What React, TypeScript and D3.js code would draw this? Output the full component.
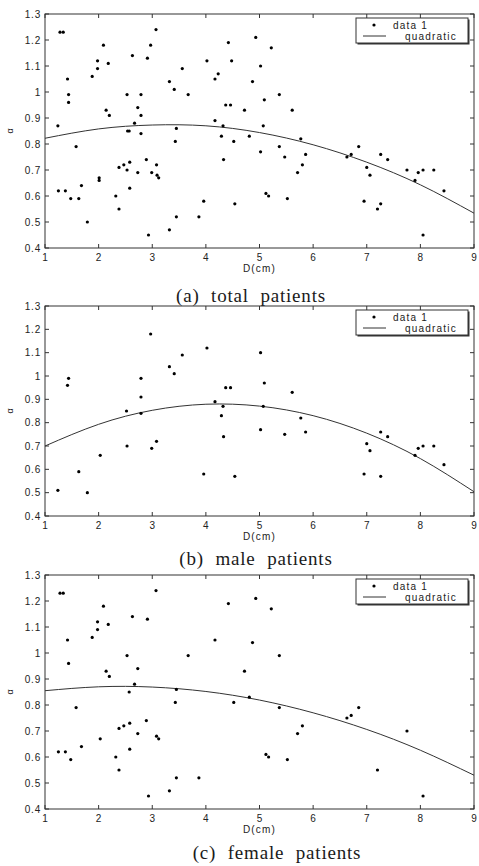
import React from "react";
import * as d3 from "d3";

// D(cm) vs alpha
const totalPoints: [number, number][] = [
  [1.24, 0.87], [1.28, 1.23], [1.34, 1.23], [1.25, 0.62], [1.38, 0.62], [1.42, 1.05],
  [1.44, 0.99], [1.44, 0.96], [1.48, 0.59], [1.58, 0.79], [1.63, 0.59], [1.68, 0.64],
  [1.79, 0.5], [1.88, 1.06], [1.98, 1.12], [1.98, 1.09], [2.01, 0.67], [2.01, 0.66],
  [2.09, 1.18], [2.14, 0.93], [2.18, 1.11], [2.2, 0.91], [2.32, 0.6], [2.38, 0.71],
  [2.38, 0.55], [2.47, 0.72], [2.53, 0.99], [2.53, 0.7], [2.54, 0.85], [2.57, 0.85],
  [2.58, 0.73], [2.58, 0.63], [2.63, 1.14], [2.67, 0.88], [2.73, 0.94], [2.73, 0.69],
  [2.79, 0.91], [2.79, 0.99], [2.79, 0.84], [2.89, 0.74], [2.91, 1.13], [2.93, 0.45],
  [2.97, 1.18], [2.99, 0.69], [3.07, 1.24], [3.08, 0.72], [3.09, 0.68], [3.12, 0.67],
  [3.32, 1.04], [3.32, 0.47], [3.41, 1.01], [3.43, 0.81], [3.45, 0.86], [3.45, 0.52],
  [3.56, 1.09], [3.67, 0.99], [3.87, 0.52], [3.96, 0.58], [4.02, 1.12], [4.17, 0.89],
  [4.17, 1.05], [4.23, 1.07], [4.29, 0.83], [4.32, 0.87], [4.33, 0.74], [4.37, 0.95],
  [4.42, 1.19], [4.46, 0.95], [4.48, 1.12], [4.52, 0.81], [4.54, 0.57], [4.72, 0.93],
  [4.81, 0.83], [4.87, 1.04], [4.93, 1.21], [5.02, 0.77], [5.02, 1.1], [5.07, 0.87],
  [5.09, 0.97], [5.12, 0.61], [5.17, 0.6], [5.22, 1.17], [5.37, 0.99], [5.37, 0.79],
  [5.47, 0.75], [5.52, 0.59], [5.61, 0.93], [5.71, 0.69], [5.77, 0.82], [5.8, 0.72],
  [5.86, 0.76], [6.63, 0.75], [6.71, 0.76], [6.85, 0.79], [6.95, 0.58], [7.0, 0.71],
  [7.06, 0.68], [7.2, 0.55], [7.26, 0.57], [7.26, 0.76], [7.39, 0.74], [7.75, 0.7],
  [7.9, 0.66], [7.96, 0.69], [8.05, 0.7], [8.05, 0.45], [8.25, 0.7], [8.44, 0.62],
];

const malePoints: [number, number][] = [
  [1.24, 0.51], [1.42, 0.96], [1.44, 0.99], [1.63, 0.59], [1.79, 0.5], [2.03, 0.66],
  [2.52, 0.85], [2.53, 0.7], [2.79, 0.99], [2.79, 0.91], [2.79, 0.84], [2.97, 1.18],
  [2.99, 0.69], [3.08, 0.72], [3.32, 1.04], [3.41, 1.01], [3.56, 1.09], [3.96, 0.58],
  [4.02, 1.12], [4.17, 0.89], [4.29, 0.83], [4.32, 0.87], [4.33, 0.74], [4.37, 0.95],
  [4.46, 0.95], [4.54, 0.57], [5.02, 1.1], [5.02, 0.77], [5.07, 0.87], [5.09, 0.97],
  [5.47, 0.75], [5.61, 0.93], [5.77, 0.82], [5.86, 0.76], [6.95, 0.58], [7.0, 0.71],
  [7.06, 0.68], [7.26, 0.57], [7.26, 0.76], [7.39, 0.74], [7.9, 0.66], [7.96, 0.69],
  [8.05, 0.7], [8.25, 0.7], [8.44, 0.62],
];

const femalePoints: [number, number][] = [
  [1.28, 1.23], [1.34, 1.23], [1.25, 0.62], [1.38, 0.62], [1.42, 1.05], [1.44, 0.96],
  [1.48, 0.59], [1.58, 0.79], [1.68, 0.64], [1.88, 1.06], [1.98, 1.12], [1.98, 1.09],
  [2.03, 0.67], [2.09, 1.18], [2.14, 0.93], [2.18, 1.11], [2.2, 0.91], [2.32, 0.6],
  [2.38, 0.71], [2.38, 0.55], [2.47, 0.72], [2.53, 0.99], [2.57, 0.85], [2.58, 0.73],
  [2.58, 0.63], [2.63, 1.14], [2.67, 0.88], [2.73, 0.94], [2.73, 0.69], [2.89, 0.74],
  [2.91, 1.13], [2.93, 0.45], [3.07, 1.24], [3.08, 0.68], [3.12, 0.67], [3.32, 0.47],
  [3.43, 0.81], [3.45, 0.86], [3.45, 0.52], [3.67, 0.99], [3.87, 0.52], [4.17, 1.05],
  [4.42, 1.19], [4.52, 0.81], [4.72, 0.93], [4.81, 0.83], [4.87, 1.04], [4.93, 1.21],
  [5.12, 0.61], [5.17, 0.6], [5.22, 1.17], [5.37, 0.99], [5.37, 0.79], [5.52, 0.59],
  [5.71, 0.69], [5.8, 0.72], [6.63, 0.75], [6.71, 0.76], [6.85, 0.79], [7.2, 0.55],
  [7.75, 0.7], [8.05, 0.45],
];

// quadratic fit curves, read at each integer D
const fitD = [1, 2, 3, 4, 5, 6, 7, 8, 9];
const totalFit = [0.822, 0.858, 0.873, 0.87, 0.844, 0.797, 0.73, 0.643, 0.534];
const maleFit = [0.7, 0.793, 0.853, 0.879, 0.871, 0.83, 0.755, 0.646, 0.504];
const femaleFit = [0.855, 0.87, 0.869, 0.852, 0.819, 0.77, 0.706, 0.626, 0.53];

const xTicks = [1, 2, 3, 4, 5, 6, 7, 8, 9];
const yTicks = [0.4, 0.5, 0.6, 0.7, 0.8, 0.9, 1, 1.1, 1.2, 1.3];
const yTickLabels = ["0.4", "0.5", "0.6", "0.7", "0.8", "0.9", "1", "1.1", "1.2", "1.3"];

const sans = "'Liberation Sans', Arial, sans-serif";
const serif = "'Liberation Serif', 'Times New Roman', serif";
const ink = "#1a1a1a";

interface PanelProps {
  top: number;
  height: number;
  points: [number, number][];
  fit: number[];
  caption: string;
  captionX: number;
  captionY: number;
}

const Panel: React.FC<PanelProps> = ({ top, height, points, fit, caption, captionX, captionY }) => {
  const left = 45, right = 474;
  const bottom = top + height;
  const x = d3.scaleLinear().domain([1, 9]).range([left, right]);
  const y = d3.scaleLinear().domain([0.4, 1.3]).range([bottom, top]);
  const line = d3.line<number>()
    .x((_, i) => x(fitD[i]))
    .y(d => y(d))
    .curve(d3.curveNatural);
  const tk = 4;

  // legend sits in the top right corner
  const lx = 356, ly = top + 4, lw = 112, lh = 25;

  return (
    <g>
      <rect x={left} y={top} width={right - left} height={height} fill="#fff" stroke="#333" strokeWidth={1} />
      {xTicks.map(t => (
        <g key={"x" + t}>
          <line x1={x(t)} x2={x(t)} y1={bottom} y2={bottom - tk} stroke="#333" />
          <line x1={x(t)} x2={x(t)} y1={top} y2={top + tk} stroke="#333" />
          <text x={x(t) + 0.4} y={bottom + 9} textAnchor="middle" dominantBaseline="central"
            fontFamily={sans} fontSize={10} letterSpacing={0.8} fill="#222">{t}</text>
        </g>
      ))}
      {yTicks.map((t, i) => (
        <g key={"y" + t}>
          <line x1={left} x2={left + tk} y1={y(t)} y2={y(t)} stroke="#333" />
          <line x1={right} x2={right - tk} y1={y(t)} y2={y(t)} stroke="#333" />
          <text x={41} y={y(t)} textAnchor="end" dominantBaseline="central"
            fontFamily={sans} fontSize={10} letterSpacing={0.8} fill="#222">{yTickLabels[i]}</text>
        </g>
      ))}
      <text x={(left + right) / 2} y={bottom + 20} textAnchor="middle" dominantBaseline="central"
        fontFamily={sans} fontSize={10} letterSpacing={1.2} fill="#222">D(cm)</text>
      <text transform={`translate(10,${(top + bottom) / 2}) rotate(-90)`} textAnchor="middle"
        dominantBaseline="central" fontFamily={sans} fontSize={9} fill="#222">α</text>

      <path d={line(fit) ?? ""} fill="none" stroke="#333" strokeWidth={1} />
      {points.map((p, i) => (
        <circle key={i} cx={x(p[0])} cy={y(p[1])} r={1.6} fill="#000" />
      ))}

      <rect x={lx + 1.5} y={ly + 1.5} width={lw} height={lh} fill="#333" />
      <rect x={lx} y={ly} width={lw} height={lh} fill="#fff" stroke="#333" strokeWidth={1} />
      <circle cx={lx + 18} cy={ly + 7} r={1.6} fill="#000" />
      <text x={lx + 37} y={ly + 7} dominantBaseline="central" fontFamily={sans} fontSize={10}
        letterSpacing={1.2} fill="#222">data 1</text>
      <line x1={lx + 7} x2={lx + 30} y1={ly + 18} y2={ly + 18} stroke="#333" />
      <text x={lx + 49} y={ly + 18} dominantBaseline="central" fontFamily={sans} fontSize={10}
        letterSpacing={1.2} fill="#222">quadratic</text>

      <text x={captionX} y={captionY} textAnchor="middle" dominantBaseline="central"
        fontFamily={serif} fontSize={19} letterSpacing={0.8} wordSpacing={6} fill={ink}>{caption}</text>
    </g>
  );
};

export default function App() {
  return (
    <svg width={479} height={866} style={{ position: "absolute", left: 0, top: 0, background: "#fff" }}>
      <Panel top={14} height={234} points={totalPoints} fit={totalFit}
        caption="(a) total patients" captionX={251} captionY={295} />
      <Panel top={306} height={210} points={malePoints} fit={maleFit}
        caption="(b) male patients" captionX={256} captionY={558} />
      <Panel top={575} height={234} points={femalePoints} fit={femaleFit}
        caption="(c) female patients" captionX={277} captionY={852} />
    </svg>
  );
}
